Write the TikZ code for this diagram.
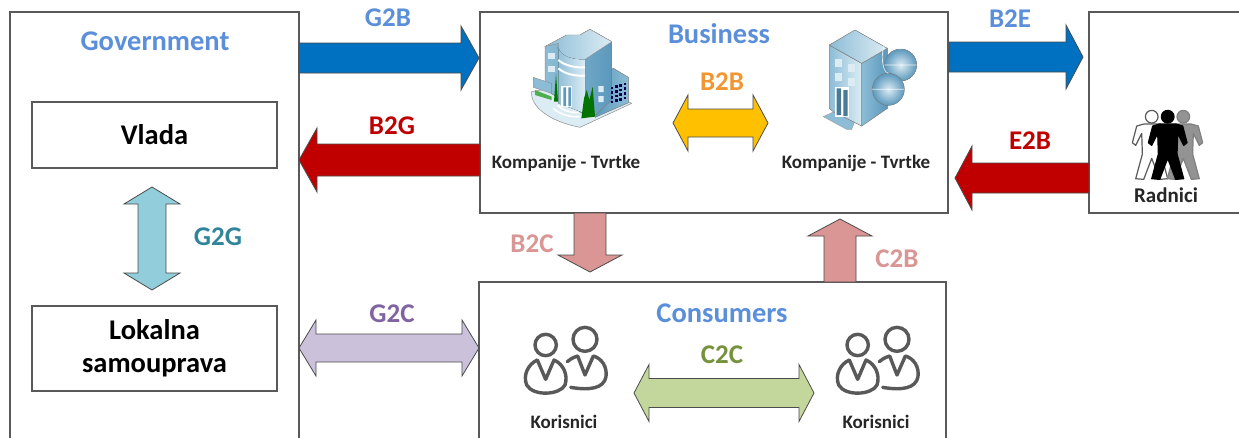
\documentclass[tikz,border=0pt]{standalone}
\usepackage{fontspec}
\setmainfont{Carlito}
\usetikzlibrary{calc}
\definecolor{titleblue}{HTML}{5B8FD9}
\definecolor{edgegray}{HTML}{595959}
\definecolor{darkblue}{HTML}{0070C0}
\definecolor{darkred}{HTML}{C00000}
\definecolor{pinkish}{HTML}{D99694}
\definecolor{lilac}{HTML}{CCC1DA}
\definecolor{lightgreen}{HTML}{C3D69B}
\definecolor{lightteal}{HTML}{92CDDC}
\definecolor{amber}{HTML}{FFC000}
\definecolor{purpletext}{HTML}{8064A2}
\definecolor{greentext}{HTML}{76923C}
\definecolor{orangetext}{HTML}{F09632}
\definecolor{tealtext}{HTML}{31859B}
\definecolor{bfaceA}{HTML}{DCECF4}
\definecolor{bfaceB}{HTML}{8DBDD6}
\definecolor{bfaceC}{HTML}{5B98BC}
\tikzset{
  x=1pt,y=-1pt,
  box/.style={draw=edgegray,fill=white,line width=1.1pt},
  blockedge/.style={draw=black!70,line width=.8pt,line join=miter},
  title/.style={font=\fontsize{28.5}{28.5}\selectfont\bfseries,text=titleblue,inner sep=0pt},
  rel/.style={font=\fontsize{27}{27}\selectfont\bfseries,inner sep=0pt},
  boxtext/.style={font=\fontsize{28.5}{33}\selectfont\bfseries,align=center,text=black,inner sep=0pt},
  caption/.style={font=\fontsize{19}{19}\selectfont\bfseries,text=black!85,inner sep=0pt},
  iconline/.style={draw=edgegray,line width=3.4pt,line cap=round,line join=round},
}
% \onearrow{colour}{from}{to}{body half}{head half}{head length}
\newcommand{\onearrow}[6]{%
  \coordinate (hb) at ($(#3)!#6!(#2)$);
  \path[blockedge,fill=#1]
    ($(#2)!#4!90:(#3)$) -- ($(hb)!#4!90:(#3)$) -- ($(hb)!#5!90:(#3)$) -- (#3)
    -- ($(hb)!#5!-90:(#3)$) -- ($(hb)!#4!-90:(#3)$) -- ($(#2)!#4!-90:(#3)$) -- cycle;}
% \twoarrow{colour}{end}{end}{body half}{head half}{head length}
\newcommand{\twoarrow}[6]{%
  \coordinate (ha) at ($(#2)!#6!(#3)$);
  \coordinate (hb) at ($(#3)!#6!(#2)$);
  \path[blockedge,fill=#1]
    (#2) -- ($(ha)!#5!90:(#3)$) -- ($(ha)!#4!90:(#3)$) -- ($(hb)!#4!-90:(#2)$) -- ($(hb)!#5!-90:(#2)$)
    -- (#3) -- ($(hb)!#5!90:(#2)$) -- ($(hb)!#4!90:(#2)$) -- ($(ha)!#4!-90:(#3)$) -- ($(ha)!#5!-90:(#3)$) -- cycle;}
% two-person outline icon, drawn in the coordinates of a 3x crop
\newcommand{\people}[1]{%
  \begin{scope}[shift={(#1)},scale=1/3]
    \draw[iconline] (315,178) circle (36);
    \draw[iconline] (262,245) .. controls (280,230) and (285,232) .. (293,228) -- (315,285) -- (340,228)
      .. controls (365,235) and (382,260) .. (378,290) .. controls (372,325) and (330,332) .. (272,322);
    \draw[iconline] (197,195) circle (32);
    \draw[iconline] (172,240) -- (197,298) -- (222,240) .. controls (250,252) and (265,285) .. (255,315)
      .. controls (240,345) and (160,350) .. (140,315) .. controls (128,285) and (145,252) .. (172,240);
  \end{scope}}
% standing figure; head centre is the origin, crop scale
\newcommand{\figureman}[3]{%
  \begin{scope}[shift={(#1)},scale=1/3]
    \filldraw[draw=#3,fill=#2,line width=1.2pt,line join=round]
      (-24,22) -- (-45,28) -- (-58,78) -- (-48,86) -- (-30,50) -- (-28,112) -- (-48,186) -- (-24,188)
      -- (0,125) -- (24,188) -- (48,186) -- (28,112) -- (30,50) -- (48,86) -- (58,78) -- (45,28) -- (24,22) -- cycle;
    \filldraw[draw=#3,fill=#2,line width=1.2pt] (0,0) circle (19);
  \end{scope}}
\begin{document}
\begin{tikzpicture}
\useasboundingbox (0,0) rectangle (1239,437);
\clip (0,0) rectangle (1239,437);
\fill[white] (0,0) rectangle (1239,437);

% boxes
\path[box] (10,12) rectangle (299,450);
\node[box,minimum width=245pt,minimum height=66pt,inner sep=0pt] (vlada) at (154.5,135) {};
\node[boxtext] at (vlada) {Vlada};
\node[box,minimum width=245pt,minimum height=85pt,inner sep=0pt] (lokalna) at (154.5,348.5) {};
\node[boxtext] at (lokalna) {Lokalna\\samouprava};
\node[box,minimum width=468pt,minimum height=201pt,inner sep=0pt] (business) at (714,112.5) {};
\node[box,minimum width=467pt,minimum height=170pt,inner sep=0pt] (consumers) at (712.5,367) {};
\node[box,minimum width=160pt,minimum height=201pt,inner sep=0pt] (workers) at (1169,112.5) {};

% block arrows between boxes
\coordinate (a1) at (299,58);  \coordinate (b1) at (479,58);
\onearrow{darkblue}{a1}{b1}{15pt}{32pt}{18pt}
\coordinate (a2) at (480,160); \coordinate (b2) at (299,160);
\onearrow{darkred}{a2}{b2}{16pt}{32pt}{18pt}
\coordinate (a3) at (949,57);  \coordinate (b3) at (1083,57);
\onearrow{darkblue}{a3}{b3}{15pt}{32pt}{17pt}
\coordinate (a4) at (1089,178); \coordinate (b4) at (955,178);
\onearrow{darkred}{a4}{b4}{15pt}{32pt}{17pt}
\coordinate (a5) at (590,213); \coordinate (b5) at (590,272);
\onearrow{pinkish}{a5}{b5}{16pt}{32pt}{17pt}
\coordinate (a6) at (840,282); \coordinate (b6) at (840,219);
\onearrow{pinkish}{a6}{b6}{16pt}{32pt}{17pt}
\coordinate (a7) at (299,348); \coordinate (b7) at (479,348);
\twoarrow{lilac}{a7}{b7}{14pt}{28pt}{17pt}
\coordinate (a8) at (634,393); \coordinate (b8) at (814,393);
\twoarrow{lightgreen}{a8}{b8}{14.5pt}{28.5pt}{15pt}
\coordinate (a9) at (673,123); \coordinate (b9) at (768,123);
\twoarrow{amber}{a9}{b9}{14pt}{28pt}{15pt}
\coordinate (a10) at (152,187); \coordinate (b10) at (152,290);
\twoarrow{lightteal}{a10}{b10}{14pt}{28pt}{17pt}

% texts
\node[title] (tgov) at (155,41) {Government};
\node[title] (tbus) at (719,34) {Business};
\node[title] (tcon) at (722,313) {Consumers};
\node[rel,text=titleblue] (lg2b) at (388,18) {G2B};
\node[rel,text=darkred] (lb2g) at (392,126) {B2G};
\node[rel,text=titleblue] (lb2e) at (1010,19) {B2E};
\node[rel,text=darkred] (le2b) at (1030,141) {E2B};
\node[rel,text=pinkish] (lb2c) at (532,244) {B2C};
\node[rel,text=pinkish] (lc2b) at (897,259) {C2B};
\node[rel,text=purpletext] (lg2c) at (392,314) {G2C};
\node[rel,text=greentext] (lc2c) at (722,355) {C2C};
\node[rel,text=orangetext] (lb2b) at (722,82) {B2B};
\node[rel,text=tealtext] (lg2g) at (218,237) {G2G};
\node[caption] (k1) at (566,163) {Kompanije - Tvrtke};
\node[caption] (k2) at (856,163) {Kompanije - Tvrtke};
\node[caption,font=\fontsize{21}{21}\selectfont\bfseries] (r1) at (1166,195) {Radnici};
\node[caption] (c1) at (564,422) {Korisnici};
\node[caption] (c2) at (876,422) {Korisnici};

% left building
\begin{scope}[shift={(480,0)},scale=1/3]
  \filldraw[draw=black!45,line width=.5pt,fill=bfaceA] (155,275) .. controls (150,320) and (210,365) .. (300,382) -- (455,310) -- (380,270) -- (240,260) -- cycle;
  \filldraw[draw=black!45,line width=.5pt,left color=bfaceC,right color=bfaceB] (345,240) -- (400,205) -- (445,232) -- (445,308) -- (345,352) -- cycle;
  \filldraw[draw=black!45,line width=.5pt,left color=bfaceB,right color=bfaceC] (195,140) -- (195,268) -- (315,345) -- (345,345) -- (395,300) -- (395,125) -- (330,88) -- (300,105) -- (260,105) -- cycle;
  \filldraw[draw=black!35,line width=.4pt,left color=bfaceB,right color=bfaceA] (195,140) -- (260,105) -- (300,105) -- (330,88) -- (395,125) -- (315,178) -- (262,180) .. controls (240,170) and (230,155) .. (235,130) -- cycle;
  \filldraw[draw=none,left color=bfaceB,right color=bfaceA] (235,130) .. controls (230,160) and (262,180) .. (315,178) -- (315,340) -- (235,310) -- cycle;
  \foreach \yy in {190,215} \draw[white,line width=2pt] (235,\yy-10) .. controls (255,\yy+8) and (290,\yy+14) .. (315,\yy+12);
  \fill[white] (243,258) rectangle (277,322);
  \fill[bfaceC] (250,262) rectangle (258,318) (265,262) rectangle (273,318);
  \draw[white,line width=1.5pt] (220,325) .. controls (240,345) and (275,352) .. (300,350) (232,315) .. controls (245,330) and (270,338) .. (295,338);
  \filldraw[draw=black!45,line width=.4pt,fill=bfaceB] (160,232) -- (215,250) -- (215,280) -- (160,262) -- cycle;
  \fill[green!55!black!70] (165,270) -- (215,290) -- (215,300) -- (165,285) -- cycle;
  \fill[green!45!black] (222,305) -- (228,220) -- (234,305) -- cycle;
  \fill[green!45!black] (304,355) -- (312,295) -- (320,270) -- (328,300) -- (338,260) -- (345,350) -- cycle;
  \fill[bfaceA] (205,160) rectangle +(20,18);
  \fill[bfaceA] (205,198) rectangle +(20,18);
  \fill[bfaceA] (355,258) rectangle +(16,18) (355,288) rectangle +(16,18);
  \foreach \dx in {392,405,418,431} \foreach \dy in {248,262,276,290} \fill[black!70!blue] ({\dx},{\dy+(431-\dx)*0.3}) rectangle +(8,8);
\end{scope}

% right building
\begin{scope}[shift={(480,0)},scale=1/3]
  \filldraw[draw=black!40,line width=.4pt,fill=bfaceB] (1030,350) -- (1062,335) -- (1125,362) -- (1115,388) -- (1100,388) -- cycle;
  \filldraw[draw=black!45,line width=.5pt,left color=bfaceB,right color=bfaceA] (1048,135) -- (1145,190) -- (1145,378) -- (1060,335) -- (1048,325) -- cycle;
  \filldraw[draw=black!45,line width=.5pt,left color=bfaceB,right color=bfaceC] (1145,190) -- (1222,145) -- (1222,325) -- (1145,378) -- cycle;
  \filldraw[draw=black!45,line width=.5pt,left color=bfaceB,right color=bfaceA] (1048,135) -- (1125,90) -- (1222,145) -- (1145,190) -- cycle;
  \foreach \wx in {1065,1103} {\fill[bfaceA] ({\wx},{178+(\wx-1065)*.4}) rectangle +(22,24); \fill[bfaceA] ({\wx},{218+(\wx-1065)*.4}) rectangle +(22,24);}
  \fill[white] (1065,262) rectangle (1107,350);
  \fill[bfaceC!80!black] (1070,265) rectangle (1083,345) (1090,270) rectangle (1103,348);
  \filldraw[draw=black!45,line width=.4pt,inner color=bfaceA,outer color=bfaceC] (1262,195) circle (48);
  \filldraw[draw=black!45,line width=.4pt,inner color=bfaceA,outer color=bfaceC] (1225,268) circle (48);
  \draw[white,line width=.7pt,opacity=.8] (1262,147) arc (90:270:18 and 48) (1225,220) arc (90:270:18 and 48) (1177,268) -- (1273,268) (1214,195) -- (1310,195);
\end{scope}

% people icons
\people{480,280}
\people{792,280}

% workers
\figureman{1151.7,116.7}{white}{edgegray}
\figureman{1183.3,116.7}{gray!85}{gray}
\figureman{1167.7,116.7}{black}{black}
\end{tikzpicture}
\end{document}
